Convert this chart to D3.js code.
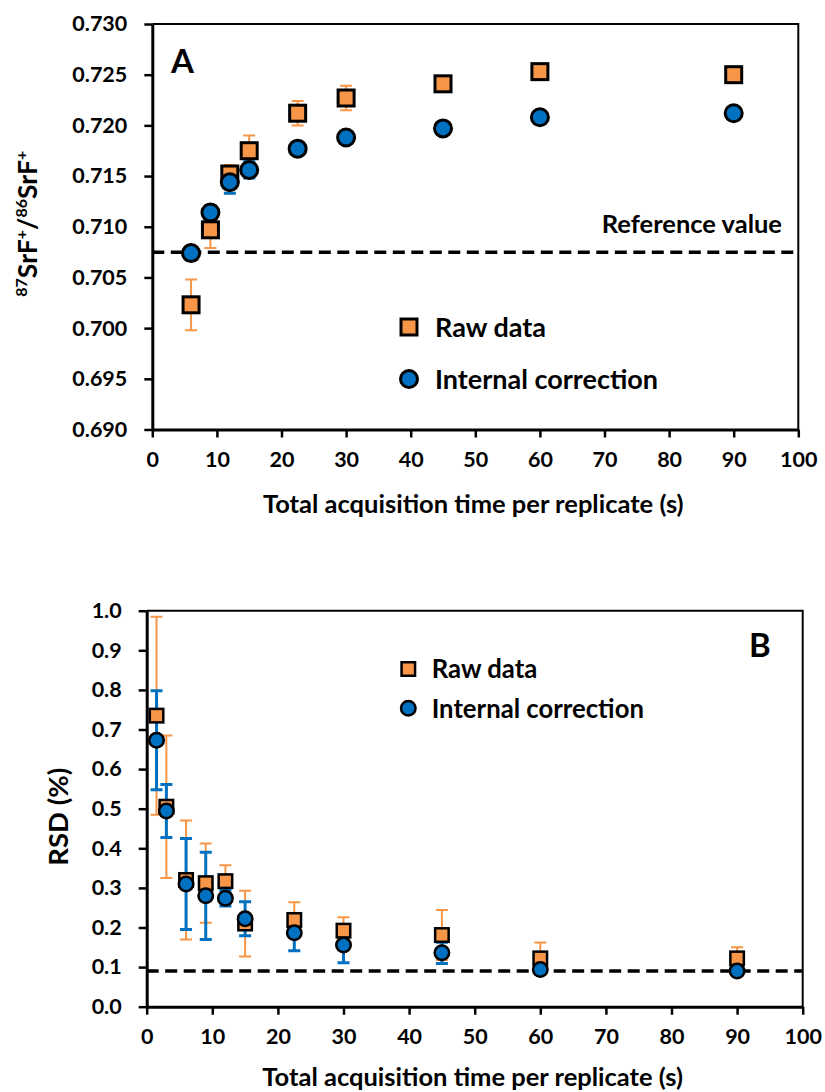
<!DOCTYPE html>
<html lang="en">
<head>
  <meta charset="utf-8">
  <title>SrF+ ratio vs acquisition time</title>
  <style>
    body { margin: 0; background: #ffffff; }
    svg { display: block; background: #ffffff; }
    text { font-family: "Lato", "Open Sans", sans-serif; font-weight: bold; fill: #000; }
  </style>
</head>
<body>
<div id="chart"></div>

<script src="https://d3js.org/d3.v7.min.js"></script>
<script>

  ////////////////////////////////////////////////// DATA

  // panel A : 87SrF+/86SrF+ ratio
  var timeA      = [6, 9, 12, 15, 22.5, 30, 45, 60, 90];
  var rawA       = [0.7023, 0.7097, 0.7152, 0.7175, 0.7212, 0.7227, 0.7241, 0.7253, 0.7250];
  var rawErrA    = [0.0025, 0.0018, 0.0009, 0.0015, 0.0012, 0.0012, 0.0003, 0.0003, 0.0003];
  var corrA      = [0.7074, 0.7114, 0.7144, 0.7156, 0.7177, 0.7188, 0.7197, 0.7208, 0.7212];
  var corrErrA   = [0.0003, 0.0007, 0.0011, 0.0008, 0.0003, 0.0003, 0.0003, 0.0003, 0.0003];
  var refA       = 0.70748;
  var yTicksA    = [0.690, 0.695, 0.700, 0.705, 0.710, 0.715, 0.720, 0.725, 0.730];

  // panel B : RSD (%)
  var timeB      = [1.5, 3, 6, 9, 12, 15, 22.5, 30, 45, 60, 90];
  var rawB       = [0.735, 0.505, 0.32, 0.312, 0.317, 0.21, 0.219, 0.192, 0.181, 0.122, 0.122];
  var rawErrB    = [0.25, 0.18, 0.15, 0.10, 0.04, 0.083, 0.045, 0.034, 0.063, 0.04, 0.028];
  var corrB      = [0.673, 0.494, 0.31, 0.28, 0.274, 0.222, 0.187, 0.156, 0.136, 0.094, 0.09];
  var corrErrB   = [0.125, 0.067, 0.115, 0.11, 0.02, 0.043, 0.046, 0.045, 0.027, 0.01, 0.01];
  var refB       = 0.09;
  var yTicksB    = [0, 0.1, 0.2, 0.3, 0.4, 0.5, 0.6, 0.7, 0.8, 0.9, 1.0];

  var xTicks     = [0, 10, 20, 30, 40, 50, 60, 70, 80, 90, 100];
  var seriesNames = ["Raw data", "Internal correction"];
  var xTitle     = "Total acquisition time per replicate (s)";

  ////////////////////////////////////////////////// STYLE

  var orange = "#F79646";
  var blue   = "#0070C0";

  var W = 825, H = 1092;

  var svg = d3.select("#chart").append("svg")
              .attr("width", W)
              .attr("height", H);

  ////////////////////////////////////////////////// PANELS

  var panelA = {
    box: {left: 152.3, right: 798.3, top: 24, bottom: 429.5},
    yDomain: [0.690, 0.730], yTicks: yTicksA, yFormat: d3.format(".3f"),
    time: timeA, raw: rawA, rawErr: rawErrA, corr: corrA, corrErr: corrErrA, ref: refA,
    marker: 16, markerStroke: 3,
    letter: "A", letterPos: [171, 73],
    titleY: 513,
    legend: {x: 409, y: [327, 379], textX: 435, size: 27},
    refLabel: {x: 782, y: 233, text: "Reference value"}
  };

  var panelB = {
    box: {left: 146.7, right: 802.7, top: 610.7, bottom: 1006.7},
    yDomain: [0, 1], yTicks: yTicksB, yFormat: d3.format(".1f"),
    time: timeB, raw: rawB, rawErr: rawErrB, corr: corrB, corrErr: corrErrB, ref: refB,
    marker: 13.5, markerStroke: 2.5,
    letter: "B", letterPos: [749, 657],
    titleY: 1086,
    legend: {x: 408.3, y: [669, 708.3], textX: 431.7, size: 25.7},
    refLabel: null
  };

  drawPanel(panelA);
  drawPanel(panelB);

  // y titles
  var yTitleA = svg.append("text")
     .attr("transform", "translate(37," + ((panelA.box.top + panelA.box.bottom) / 2 - 3) + ") rotate(-90)")
     .attr("text-anchor", "middle")
     .style("font-size", "26.5px");

  var parts = [["87", true], ["SrF", false], ["+", true], ["/", false],
               ["86", true], ["SrF", false], ["+", true]];
  var lift = 10, prevSup = false;
  parts.forEach(function(p){
    var t = yTitleA.append("tspan").text(p[0]);
    if (p[1]) {
      t.style("font-size", "16px");
      if (!prevSup) t.attr("dy", -lift);
    } else if (prevSup) {
      t.attr("dy", lift);
    }
    prevSup = p[1];
  });

  svg.append("text")
     .attr("transform", "translate(68," + ((panelB.box.top + panelB.box.bottom) / 2 + 8) + ") rotate(-90)")
     .attr("text-anchor", "middle")
     .style("font-size", "27.5px")
     .text("RSD (%)");

  ////////////////////////////////////////////////////////////////////////////////////////////////////
  ////////////////////////////////////////////////// FUNCTIONS

  function drawPanel(p){
    var b = p.box;

    var x = d3.scaleLinear().domain([0, 100]).range([b.left, b.right]);
    var y = d3.scaleLinear().domain(p.yDomain).range([b.bottom, b.top]);

    var g = svg.append("g");

    // frame top / right
    g.append("path")
     .attr("d", "M" + b.left + "," + b.top + "H" + b.right + "V" + b.bottom)
     .attr("fill", "none")
     .attr("stroke", "#000")
     .attr("stroke-width", 2);

    // axes
    var xAxis = g.append("g")
                 .attr("transform", "translate(0," + b.bottom + ")")
                 .call(d3.axisBottom(x).tickValues(xTicks).tickSize(8).tickSizeOuter(0).tickPadding(14.5));
    var yAxis = g.append("g")
                 .attr("transform", "translate(" + b.left + ",0)")
                 .call(d3.axisLeft(y).tickValues(p.yTicks).tickFormat(p.yFormat).tickSize(8).tickSizeOuter(0).tickPadding(17));

    [xAxis, yAxis].forEach(function(a){
      a.select(".domain").attr("stroke-width", 3);
      a.selectAll(".tick line").attr("stroke-width", 2.5);
      a.selectAll(".tick text")
       .style("font-family", "Lato, 'Open Sans', sans-serif")
       .style("font-weight", "bold")
       .style("font-size", "21.5px");
    });

    // x title
    g.append("text")
     .attr("x", (b.left + b.right) / 2 - 2)
     .attr("y", p.titleY)
     .attr("text-anchor", "middle")
     .style("font-size", "25.5px")
     .text(xTitle);

    // reference line
    g.append("line")
     .attr("x1", b.left).attr("x2", b.right)
     .attr("y1", y(p.ref)).attr("y2", y(p.ref))
     .attr("stroke", "#000")
     .attr("stroke-width", 3.5)
     .attr("stroke-dasharray", "12,6.5");

    if (p.refLabel) {
      g.append("text")
       .attr("x", p.refLabel.x)
       .attr("y", p.refLabel.y)
       .attr("text-anchor", "end")
       .style("font-size", "25.5px")
       .text(p.refLabel.text);
    }

    // error bars (raw first, then corrected)
    var series = [
      {vals: p.raw,  err: p.rawErr,  color: orange, width: 2},
      {vals: p.corr, err: p.corrErr, color: blue,   width: 3}
    ];
    var cap = 6;

    series.forEach(function(s){
      var eg = g.append("g")
                .attr("stroke", s.color)
                .attr("stroke-width", s.width)
                .attr("fill", "none");
      var pts = p.time.map(function(t, i){ return {t: t, v: s.vals[i], e: s.err[i]}; });
      eg.selectAll("path")
        .data(pts)
        .enter()
        .append("path")
        .attr("d", function(d){
          var cx = x(d.t), y0 = y(d.v - d.e), y1 = y(d.v + d.e);
          return "M" + cx + "," + y0 + "V" + y1 +
                 "M" + (cx - cap) + "," + y0 + "H" + (cx + cap) +
                 "M" + (cx - cap) + "," + y1 + "H" + (cx + cap);
        });
    });

    // markers
    var m = p.marker;
    g.append("g")
     .selectAll("rect")
     .data(p.time.map(function(t, i){ return {t: t, v: p.raw[i]}; }))
     .enter()
     .append("rect")
     .attr("x", function(d){ return x(d.t) - m / 2; })
     .attr("y", function(d){ return y(d.v) - m / 2; })
     .attr("width", m).attr("height", m)
     .attr("fill", orange)
     .attr("stroke", "#000")
     .attr("stroke-width", p.markerStroke);

    g.append("g")
     .selectAll("circle")
     .data(p.time.map(function(t, i){ return {t: t, v: p.corr[i]}; }))
     .enter()
     .append("circle")
     .attr("cx", function(d){ return x(d.t); })
     .attr("cy", function(d){ return y(d.v); })
     .attr("r", m / 2 + 0.5)
     .attr("fill", blue)
     .attr("stroke", "#000")
     .attr("stroke-width", p.markerStroke);

    // panel letter
    g.append("text")
     .attr("x", p.letterPos[0])
     .attr("y", p.letterPos[1])
     .style("font-size", "33px")
     .text(p.letter);

    // legend
    var L = p.legend;
    g.append("rect")
     .attr("x", L.x - m / 2).attr("y", L.y[0] - m / 2)
     .attr("width", m).attr("height", m)
     .attr("fill", orange).attr("stroke", "#000").attr("stroke-width", p.markerStroke);
    g.append("circle")
     .attr("cx", L.x).attr("cy", L.y[1]).attr("r", m / 2 + 0.5)
     .attr("fill", blue).attr("stroke", "#000").attr("stroke-width", p.markerStroke);

    seriesNames.forEach(function(name, i){
      g.append("text")
       .attr("x", L.textX)
       .attr("y", L.y[i])
       .attr("dy", "0.36em")
       .style("font-size", L.size + "px")
       .text(name);
    });
  }

</script>
</body>
</html>
